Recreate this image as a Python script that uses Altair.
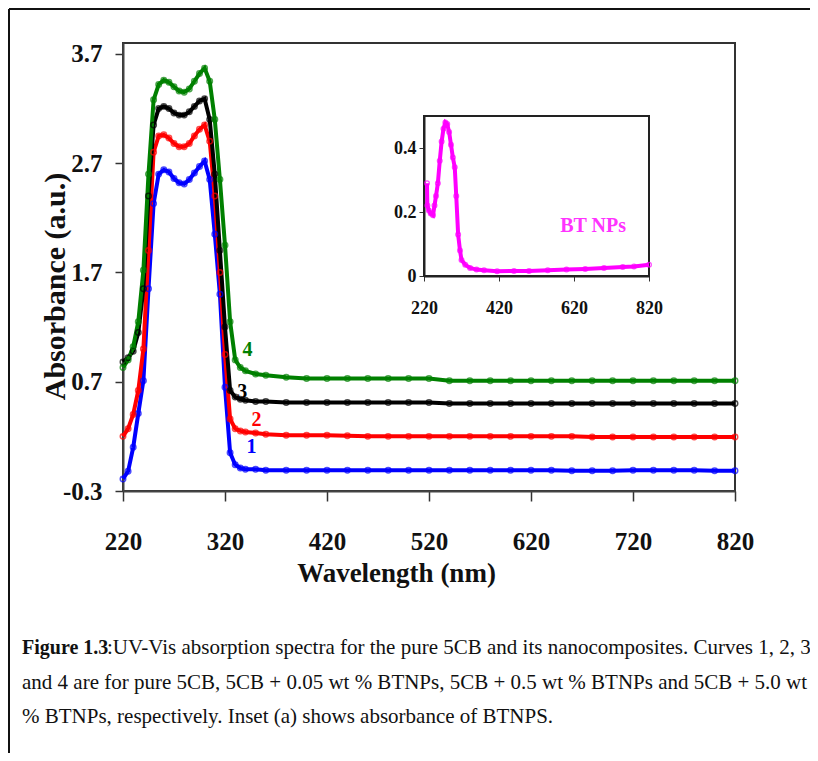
import altair as alt
import pandas as pd

# ---------------- data ----------------
wl = [220, 225, 230, 235, 240, 245, 250, 255, 260, 265, 270, 275, 280, 285, 290, 295,
      300, 305, 310, 315, 320, 325, 330, 335, 340, 350, 360, 380, 400, 420, 440, 460,
      480, 500, 520, 540, 560, 580, 600, 620, 640, 660, 680, 700, 720, 740, 760, 780,
      800, 820]

curve1 = [-0.19, -0.12, 0.10, 0.41, 0.71, 1.55, 2.33, 2.60, 2.64, 2.62, 2.56, 2.52, 2.51, 2.55,
          2.61, 2.67, 2.72, 2.55, 2.05, 1.50, 0.65, 0.05, -0.06, -0.09, -0.10, -0.10, -0.11,
          -0.11, -0.11, -0.11, -0.11, -0.11, -0.11, -0.11, -0.11, -0.11, -0.11, -0.11, -0.11,
          -0.11, -0.11, -0.115, -0.115, -0.115, -0.11, -0.11, -0.11, -0.11, -0.115, -0.115]
curve2 = [0.20, 0.27, 0.40, 0.62, 1.00, 1.90, 2.80, 2.95, 2.96, 2.93, 2.88, 2.85, 2.85, 2.88,
          2.95, 3.01, 3.05, 2.90, 2.40, 1.70, 0.95, 0.36, 0.27, 0.25, 0.24, 0.23, 0.22,
          0.21, 0.21, 0.21, 0.205, 0.20, 0.20, 0.20, 0.20, 0.20, 0.20, 0.20, 0.20,
          0.20, 0.20, 0.20, 0.195, 0.195, 0.195, 0.195, 0.195, 0.195, 0.195, 0.195]
curve3 = [0.88, 0.92, 0.98, 1.15, 1.55, 2.40, 3.05, 3.20, 3.22, 3.20, 3.16, 3.14, 3.14, 3.17,
          3.22, 3.27, 3.29, 3.10, 2.60, 1.90, 1.20, 0.62, 0.56, 0.54, 0.53, 0.52, 0.52,
          0.51, 0.51, 0.51, 0.51, 0.51, 0.51, 0.51, 0.51, 0.50, 0.50, 0.50, 0.50,
          0.50, 0.50, 0.50, 0.50, 0.50, 0.50, 0.50, 0.50, 0.50, 0.50, 0.50]
curve4 = [0.83, 0.90, 1.02, 1.25, 1.72, 2.60, 3.28, 3.42, 3.46, 3.44, 3.40, 3.36, 3.35, 3.38,
          3.45, 3.52, 3.57, 3.45, 3.10, 2.55, 1.95, 1.25, 0.90, 0.83, 0.80, 0.77, 0.76,
          0.74, 0.73, 0.73, 0.73, 0.73, 0.73, 0.73, 0.73, 0.71, 0.71, 0.71, 0.71,
          0.71, 0.71, 0.71, 0.71, 0.71, 0.71, 0.71, 0.71, 0.71, 0.71, 0.71]

curve_names = ["1", "2", "3", "4"]
curve_colors = ["#0000ff", "#ff0000", "#000000", "#008000"]

label_wl = [346, 351, 337, 342]
label_abs = [0.10, 0.35, 0.61, 0.99]

# inset: BT NPs
bt_wl = [228, 229, 233, 238, 244, 248, 252, 257, 262, 267, 272, 277, 282, 287, 292, 297,
         302, 306, 311, 316, 320, 330, 343, 360, 380, 415, 460, 500, 550, 600, 650, 700,
         750, 780, 820]
bt_abs = [0.29, 0.22, 0.205, 0.195, 0.19, 0.22, 0.25, 0.29, 0.36, 0.42, 0.46, 0.48, 0.475,
          0.45, 0.41, 0.37, 0.34, 0.25, 0.13, 0.08, 0.05, 0.035, 0.025, 0.02, 0.018, 0.015,
          0.016, 0.016, 0.018, 0.02, 0.022, 0.025, 0.028, 0.03, 0.035]

main_x_ticks = [220, 320, 420, 520, 620, 720, 820]
main_y_ticks = [-0.3, 0.7, 1.7, 2.7, 3.7]
inset_x_ticks = [220, 420, 620, 820]
inset_y_ticks = [0, 0.2, 0.4]

caption_bold = "Figure 1.3"
caption_first = ":UV-Vis absorption spectra for the pure 5CB and its nanocomposites. Curves 1, 2, 3"
caption_rest = ["and 4 are for pure 5CB, 5CB + 0.05 wt % BTNPs, 5CB + 0.5 wt % BTNPs and 5CB + 5.0 wt",
                "% BTNPs, respectively.  Inset (a) shows absorbance of BTNPS."]

# ---------------- tables ----------------
rows = []
for name, vals in zip(curve_names, [curve1, curve2, curve3, curve4]):
    for w, v in zip(wl, vals):
        rows.append({"wl": w, "a": v, "curve": name})
main_df = pd.DataFrame(rows)
labels_df = pd.DataFrame({"wl": label_wl, "a": label_abs, "curve": curve_names})
bt_df = pd.DataFrame({"wl": bt_wl, "a": bt_abs})
box_df = pd.DataFrame({"x1": [220], "x2": [820], "y1": [0.0], "y2": [0.5]})
btlab_df = pd.DataFrame({"wl": [671], "a": [0.156], "t": ["BT NPs"]})

FONT = "Liberation Serif"
W, H = 612, 448

color = alt.Color("curve:N", scale=alt.Scale(domain=curve_names, range=curve_colors), legend=None)

X = alt.X("wl:Q",
          scale=alt.Scale(domain=[220, 820], nice=False, zero=False),
          axis=alt.Axis(values=main_x_ticks, title="Wavelength (nm)", grid=False,
                        labelFont=FONT, labelFontSize=25, labelFontWeight="bold", labelColor="#111",
                        labelBaseline="middle", tickSize=10, labelPadding=40,
                        domainColor="#444", domainWidth=2, tickColor="#333", tickWidth=1.5,
                        titleFont=FONT, titleFontSize=27, titleFontWeight="bold", titleColor="#111",
                        titleX=273, titleY=82, titleBaseline="middle", titleAlign="center",
                        labelFlush=False))
Y = alt.Y("a:Q",
          scale=alt.Scale(domain=[-0.3, 3.8], nice=False, zero=False),
          axis=alt.Axis(values=main_y_ticks, title="Absorbance (a.u.)", grid=False,
                        labelExpr="replace(format(datum.value, '.1f'), '\u2212', '-')",
                        labelFont=FONT, labelFontSize=25, labelFontWeight="bold", labelColor="#111",
                        tickSize=8, labelPadding=13,
                        domainColor="#444", domainWidth=2, tickColor="#333", tickWidth=1.5,
                        titleFont=FONT, titleFontSize=30, titleFontWeight="bold", titleColor="#111",
                        titleX=-68, titleY=243, titleBaseline="middle", titleAlign="center",
                        titleAngle=-90, labelFlush=False))

lines = alt.Chart(main_df).mark_line(strokeWidth=4).encode(x=X, y=Y, color=color, order="wl:Q")
pts = alt.Chart(main_df).mark_point(shape="circle", filled=False, size=30, strokeWidth=1.5).encode(
    x=X, y=Y, color=color)
labs = alt.Chart(labels_df).mark_text(font=FONT, fontSize=20, fontWeight="bold").encode(
    x=X, y=Y, text="curve:N", color=color)
main = alt.layer(lines, pts, labs)

# inset layer with its own scales placed by pixel range
inset_xscale = alt.Scale(domain=[220, 820], range=[301, 526], nice=False, zero=False)
inset_yscale = alt.Scale(domain=[0, 0.5], range=[233, 73], nice=False, zero=False)
inset_xaxis = alt.Axis(orient="bottom", offset=-215, values=inset_x_ticks, title=None, grid=False,
                       labelFont=FONT, labelFontSize=18, labelFontWeight="bold", labelColor="#111",
                       labelBaseline="middle", tickSize=5, labelPadding=27,
                       domainColor="#222", domainWidth=2, tickColor="#333", labelFlush=False)
inset_yaxis = alt.Axis(orient="left", offset=-301, values=inset_y_ticks, title=None, grid=False,
                       labelExpr="datum.value == 0 ? '0' : format(datum.value, '.1f')",
                       labelFont=FONT, labelFontSize=18, labelFontWeight="bold", labelColor="#111",
                       tickSize=5, labelPadding=3,
                       domainColor="#222", domainWidth=2, tickColor="#333", labelFlush=False)
IX = alt.X("wl:Q", scale=inset_xscale, axis=inset_xaxis)
IY = alt.Y("a:Q", scale=inset_yscale, axis=inset_yaxis)

box = alt.Chart(box_df).mark_rect(fillOpacity=0, stroke="#222", strokeWidth=2).encode(
    x=alt.X("x1:Q", scale=inset_xscale, axis=inset_xaxis), x2="x2:Q",
    y=alt.Y("y1:Q", scale=inset_yscale, axis=inset_yaxis), y2="y2:Q")
bt_line = alt.Chart(bt_df).mark_line(color="#ff00ff", strokeWidth=4).encode(x=IX, y=IY)
bt_pts = alt.Chart(bt_df).mark_point(shape="circle", filled=False, size=22, strokeWidth=1.3,
                                     color="#ff00ff").encode(x=IX, y=IY)
bt_lab = alt.Chart(btlab_df).mark_text(font=FONT, fontSize=20, fontWeight="bold",
                                       color="#ff33ff").encode(x=IX, y=IY, text="t:N")
inset = alt.layer(box, bt_line, bt_pts, bt_lab)

# caption and figure frame (decoration)
cap1 = alt.Chart(pd.DataFrame({"t": [caption_bold]})).mark_text(
    font=FONT, fontSize=20, fontWeight="bold", align="left", baseline="middle", color="#111").encode(
    x=alt.value(-101), y=alt.value(605), text="t:N")
cap2 = alt.Chart(pd.DataFrame({"t": [caption_first]})).mark_text(
    font=FONT, fontSize=21, align="left", baseline="middle", color="#111").encode(
    x=alt.value(-16), y=alt.value(605), text="t:N")
cap3 = alt.Chart(pd.DataFrame({"t": [caption_rest[0]]})).mark_text(
    font=FONT, fontSize=21, align="left", baseline="middle", color="#111").encode(
    x=alt.value(-101), y=alt.value(640), text="t:N")
cap4 = alt.Chart(pd.DataFrame({"t": [caption_rest[1]]})).mark_text(
    font=FONT, fontSize=21, align="left", baseline="middle", color="#111").encode(
    x=alt.value(-101), y=alt.value(674), text="t:N")
dummy = pd.DataFrame({"k": [0]})
frame_l = alt.Chart(dummy).mark_rule(color="#111", strokeWidth=2).encode(
    x=alt.value(-114), y=alt.value(-34), y2=alt.value(720))
frame_t = alt.Chart(dummy).mark_rule(color="#111", strokeWidth=2).encode(
    x=alt.value(-114), x2=alt.value(690), y=alt.value(-34))

chart = alt.layer(main, inset, cap1, cap2, cap3, cap4, frame_l, frame_t).resolve_scale(
    x="independent", y="independent", color="independent"
).properties(
    width=W, height=H,
    padding={"left": 115, "top": 35, "right": 75, "bottom": 262},
    autosize=alt.AutoSizeParams(type="none"),
).configure_view(stroke="#333", strokeWidth=2)

chart.save("out.html", embed_options={"renderer": "svg", "actions": False})
